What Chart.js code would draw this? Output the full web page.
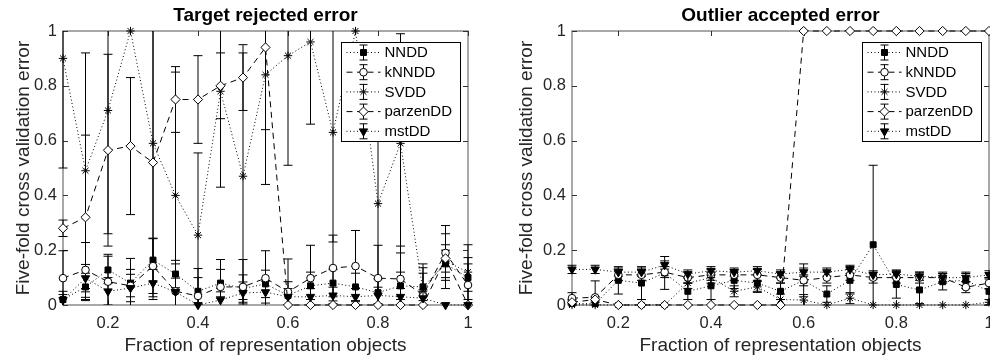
<!DOCTYPE html>
<html>
<head>
<meta charset="utf-8">
<script src="https://cdn.jsdelivr.net/npm/chart.js@4.4.1/dist/chart.umd.min.js"></script>
<style>
    html, body { margin: 0; padding: 0; background: #fff; width: 990px; height: 357px; overflow: hidden; }
    .panel { position: absolute; top: 0; height: 357px; }
    #left-panel { left: 0; width: 510px; }
    #right-panel { left: 510px; width: 500px; }
</style>
</head>
<body>
<div class="panel" id="left-panel"><canvas id="rejected-chart" width="510" height="357"></canvas></div>
<div class="panel" id="right-panel"><canvas id="accepted-chart" width="500" height="357"></canvas></div>
<script>
// fraction of representation objects, 0.1 : 0.05 : 1
const fractions = [0.1, 0.15, 0.2, 0.25, 0.3, 0.35, 0.4, 0.45, 0.5, 0.55, 0.6, 0.65, 0.7, 0.75, 0.8, 0.85, 0.9, 0.95, 1];
const xTickValues = [0.2, 0.4, 0.6, 0.8, 1];
const yTickValues = [0, 0.2, 0.4, 0.6, 0.8, 1];
const methodNames = ['NNDD', 'kNNDD', 'SVDD', 'parzenDD', 'mstDD'];

// target rejected error (mean, std over five folds)
const nnddRej      = [0.02, 0.066, 0.128, 0.08, 0.164, 0.113, 0.05, 0.08, 0.06, 0.077, 0.035, 0.07, 0.08, 0.066, 0.045, 0.07, 0.066, 0.15, 0.10];
const nnddRejStd   = [0.03, 0.05, 0.05, 0.05, 0.08, 0.05, 0.05, 0.05, 0.05, 0.05, 0.05, 0.05, 0.05, 0.05, 0.05, 0.05, 0.05, 0.05, 0.05];
const knnddRej     = [0.098, 0.128, 0.085, 0.07, 0.142, 0.05, 0.033, 0.066, 0.066, 0.098, 0.048, 0.098, 0.135, 0.142, 0.098, 0.095, 0.036, 0.19, 0.073];
const knnddRejStd  = [0.1, 0.1, 0.1, 0.1, 0.1, 0.1, 0.1, 0.1, 0.1, 0.1, 0.12, 0.12, 0.12, 0.13, 0.12, 0.12, 0.1, 0.1, 0.1];
const svddRej      = [0.90, 0.49, 0.71, 1.00, 0.59, 0.40, 0.255, 0.78, 0.47, 0.84, 0.91, 0.96, 0.63, 1.00, 0.37, 0.59, 0.05, 0.16, 0.12];
const svddRejStd   = [0.4, 0.43, 0.45, 0, 0.45, 0.45, 0.3, 0.35, 0.45, 0.4, 0.4, 0.3, 0.4, 0, 0.45, 0.4, 0.1, 0.1, 0.1];
const parzenRej    = [0.28, 0.32, 0.565, 0.58, 0.52, 0.75, 0.75, 0.80, 0.83, 0.94, 0, 0, 0, 0, 0, 0, 0, 0.17, 0];
const parzenRejStd = [0.03, 0.3, 0.35, 0.25, 0.5, 0.12, 0.16, 0.12, 0.12, 0.3, 0, 0, 0, 0, 0, 0, 0, 0.05, 0];
const mstRej       = [0.018, 0.098, 0.05, 0.062, 0.08, 0.048, 0, 0.018, 0.044, 0.047, 0.03, 0.03, 0.035, 0.03, 0.035, 0.03, 0.025, 0, 0];
const mstRejStd    = [0.02, 0.05, 0.05, 0.05, 0.05, 0.05, 0, 0.03, 0.04, 0.04, 0.03, 0.03, 0.03, 0.03, 0.03, 0.03, 0.03, 0, 0];

// outlier accepted error
const nnddAcc      = [0.005, 0.005, 0.09, 0.08, 0.117, 0.05, 0.07, 0.09, 0.08, 0.05, 0.09, 0.04, 0.09, 0.22, 0.075, 0.055, 0.085, 0.09, 0.05];
const nnddAccStd   = [0.01, 0.01, 0.05, 0.06, 0.06, 0.03, 0.05, 0.03, 0.03, 0.03, 0.06, 0.03, 0.05, 0.29, 0.05, 0.05, 0.03, 0.03, 0.05];
const knnddAcc     = [0.025, 0.028, 0.11, 0.11, 0.12, 0.1, 0.11, 0.11, 0.11, 0.1, 0.09, 0.1, 0.11, 0.1, 0.1, 0.1, 0.1, 0.065, 0.08];
const knnddAccStd  = [0.02, 0.06, 0.02, 0.02, 0.02, 0.02, 0.02, 0.02, 0.02, 0.02, 0.02, 0.02, 0.02, 0.02, 0.02, 0.02, 0.02, 0.02, 0.02];
const svddAcc      = [0, 0, 0, 0, 0, 0.08, 0.1, 0.05, 0.066, 0.02, 0.018, 0, 0.025, 0, 0, 0, 0, 0, 0.01];
const svddAccStd   = [0, 0, 0, 0, 0, 0.02, 0.02, 0.02, 0.02, 0.02, 0.02, 0, 0.02, 0, 0, 0, 0, 0, 0.01];
const parzenAcc    = [0.01, 0.02, 0, 0, 0, 0, 0, 0, 0, 0, 1, 1, 1, 1, 1, 1, 1, 1, 1];
const parzenAccStd = [0.01, 0.01, 0, 0, 0, 0, 0, 0, 0, 0, 0, 0, 0, 0, 0, 0, 0, 0, 0];
const mstAcc       = [0.13, 0.13, 0.12, 0.12, 0.146, 0.113, 0.125, 0.12, 0.125, 0.113, 0.12, 0.12, 0.13, 0.11, 0.113, 0.105, 0.1, 0.1, 0.11];
const mstAccStd    = [0.015, 0.015, 0.015, 0.015, 0.015, 0.015, 0.015, 0.015, 0.015, 0.015, 0.015, 0.015, 0.015, 0.015, 0.015, 0.015, 0.015, 0.015, 0.015];

const FONT = '"Liberation Sans", Arial, Helvetica, sans-serif';
const DOTTED = [1, 2.5];
const DASHED = [6, 4.5];

// marker / line style per method, in plotting order
const methodStyles = [
    { pointStyle: 'rect',    pointRadius: 4.2, fill: '#000', dash: DOTTED, rotation: 0 },
    { pointStyle: 'circle',  pointRadius: 3.8, fill: '#fff', dash: DASHED, rotation: 0 },
    { pointStyle: 'star',    pointRadius: 4.2, fill: '#000', dash: DOTTED, rotation: 0 },
    { pointStyle: 'rectRot', pointRadius: 4.6, fill: '#fff', dash: DASHED, rotation: 0 },
    { pointStyle: 'triangle', pointRadius: 4.8, fill: '#000', dash: DOTTED, rotation: 180 }
];

function buildDatasets(means, stds) {
    return means.map((vals, i) => {
        const s = methodStyles[i];
        return {
            label: methodNames[i],
            data: fractions.map((f, j) => ({ x: f, y: vals[j] })),
            errors: stds[i],
            borderColor: '#000',
            borderWidth: 1,
            borderDash: s.dash,
            pointStyle: s.pointStyle,
            pointRadius: s.pointRadius,
            pointRotation: s.rotation,
            pointBackgroundColor: s.fill,
            pointBorderColor: '#000',
            pointBorderWidth: 1,
            tension: 0,
            clip: false,
            order: means.length - i
        };
    });
}

// axes box with inward ticks, drawn under the data
const axesBox = {
    id: 'axesBox',
    beforeDatasetsDraw(chart) {
        const { ctx, chartArea: a, scales: { x, y } } = chart;
        ctx.save();
        ctx.strokeStyle = '#7a7a7a';
        ctx.lineWidth = 1.3;
        ctx.strokeRect(a.left, a.top, a.right - a.left, a.bottom - a.top);
        ctx.strokeStyle = '#333';
        ctx.lineWidth = 1;
        ctx.beginPath();
        xTickValues.forEach(v => {
            const px = Math.round(x.getPixelForValue(v)) + 0.5;
            ctx.moveTo(px, a.bottom); ctx.lineTo(px, a.bottom - 5);
            ctx.moveTo(px, a.top); ctx.lineTo(px, a.top + 5);
        });
        yTickValues.forEach(v => {
            const py = Math.round(y.getPixelForValue(v)) + 0.5;
            ctx.moveTo(a.left, py); ctx.lineTo(a.left + 5, py);
            ctx.moveTo(a.right, py); ctx.lineTo(a.right - 5, py);
        });
        ctx.stroke();
        ctx.restore();
    }
};

// vertical error bars (mean +/- std) with caps
const errorBars = {
    id: 'errorBars',
    beforeDatasetsDraw(chart) {
        const { ctx, chartArea: a, scales: { x, y } } = chart;
        ctx.save();
        ctx.beginPath();
        ctx.rect(a.left - 6, a.top, a.right - a.left + 12, a.bottom - a.top);
        ctx.clip();
        ctx.strokeStyle = '#000';
        ctx.lineWidth = 1;
        chart.data.datasets.forEach(ds => {
            ds.data.forEach((p, j) => {
                const e = ds.errors[j];
                if (!e) return;
                const px = x.getPixelForValue(p.x);
                const top = y.getPixelForValue(p.y + e);
                const bot = y.getPixelForValue(p.y - e);
                ctx.beginPath();
                ctx.moveTo(px, top); ctx.lineTo(px, bot);
                ctx.moveTo(px - 4.5, top); ctx.lineTo(px + 4.5, top);
                ctx.moveTo(px - 4.5, bot); ctx.lineTo(px + 4.5, bot);
                ctx.stroke();
            });
        });
        ctx.restore();
    }
};

// boxed legend in the upper right, line + errorbar + marker samples
const boxedLegend = {
    id: 'boxedLegend',
    afterDraw(chart) {
        const { ctx, chartArea: a } = chart;
        const w = 119, h = 99;
        const left = Math.round(a.right - 8 - w) + 0.5;
        const top = Math.round(a.top + 11) + 0.5;
        ctx.save();
        ctx.fillStyle = '#fff';
        ctx.fillRect(left, top, w, h);
        ctx.strokeStyle = '#000';
        ctx.lineWidth = 1;
        ctx.strokeRect(left, top, w, h);
        chart.data.datasets.forEach((ds, i) => {
            const cy = top + 10 + i * 19.7;
            const cx = left + 22;
            ctx.strokeStyle = '#000';
            ctx.lineWidth = 1;
            ctx.setLineDash(ds.borderDash);
            ctx.beginPath();
            ctx.moveTo(left + 5, cy); ctx.lineTo(left + 39, cy);
            ctx.stroke();
            ctx.setLineDash([]);
            ctx.beginPath();
            ctx.moveTo(cx, cy - 7.5); ctx.lineTo(cx, cy + 7.5);
            ctx.moveTo(cx - 4, cy - 7.5); ctx.lineTo(cx + 4, cy - 7.5);
            ctx.moveTo(cx - 4, cy + 7.5); ctx.lineTo(cx + 4, cy + 7.5);
            ctx.stroke();
            ctx.fillStyle = ds.pointBackgroundColor;
            ctx.strokeStyle = '#000';
            Chart.helpers.drawPoint(ctx, {
                pointStyle: ds.pointStyle,
                radius: ds.pointRadius,
                rotation: ds.pointRotation,
                borderWidth: 1
            }, cx, cy);
            ctx.fillStyle = '#000';
            ctx.font = '15px ' + FONT;
            ctx.textBaseline = 'middle';
            ctx.textAlign = 'left';
            ctx.fillText(ds.label, left + 43, cy + 0.5);
        });
        ctx.restore();
    }
};

function makeChart(canvasId, title, datasets, yWidth, rightPad, yTitlePad) {
    return new Chart(document.getElementById(canvasId), {
        type: 'line',
        data: { datasets },
        plugins: [axesBox, errorBars, boxedLegend],
        options: {
            responsive: false,
            animation: false,
            layout: { padding: { left: 0, right: rightPad, top: 0, bottom: 0 } },
            plugins: {
                legend: { display: false },
                tooltip: { enabled: false },
                title: {
                    display: true,
                    text: title,
                    fullSize: false,
                    color: '#000',
                    font: { family: FONT, size: 19, weight: 'bold' },
                    padding: { top: 4.6, bottom: 3.6 }
                }
            },
            scales: {
                x: {
                    type: 'linear',
                    min: 0.1,
                    max: 1,
                    afterBuildTicks: s => { s.ticks = xTickValues.map(v => ({ value: v })); },
                    afterFit: s => { s.height = 52; },
                    grid: { display: false, drawTicks: false },
                    border: { display: false },
                    ticks: {
                        color: '#262626',
                        padding: 9,
                        maxRotation: 0,
                        font: { family: FONT, size: 16.5 },
                        callback: v => String(v)
                    },
                    title: {
                        display: true,
                        text: 'Fraction of representation objects',
                        color: '#262626',
                        font: { family: FONT, size: 19 },
                        padding: { top: 0, bottom: 0.3 }
                    }
                },
                y: {
                    type: 'linear',
                    min: 0,
                    max: 1,
                    afterBuildTicks: s => { s.ticks = yTickValues.map(v => ({ value: v })); },
                    afterFit: s => { s.width = yWidth; },
                    grid: { display: false, drawTicks: false },
                    border: { display: false },
                    ticks: {
                        color: '#262626',
                        padding: 6,
                        font: { family: FONT, size: 16.5 },
                        callback: v => String(v)
                    },
                    title: {
                        display: true,
                        text: 'Five-fold cross validation error',
                        color: '#262626',
                        font: { family: FONT, size: 19 },
                        padding: { top: yTitlePad, bottom: 0 }
                    }
                }
            }
        }
    });
}

makeChart('rejected-chart', 'Target rejected error',
    buildDatasets([nnddRej, knnddRej, svddRej, parzenRej, mstRej],
                  [nnddRejStd, knnddRejStd, svddRejStd, parzenRejStd, mstRejStd]),
    63, 42, 12.3);

makeChart('accepted-chart', 'Outlier accepted error',
    buildDatasets([nnddAcc, knnddAcc, svddAcc, parzenAcc, mstAcc],
                  [nnddAccStd, knnddAccStd, svddAccStd, parzenAccStd, mstAccStd]),
    62, 21, 5.3);
</script>
</body>
</html>
